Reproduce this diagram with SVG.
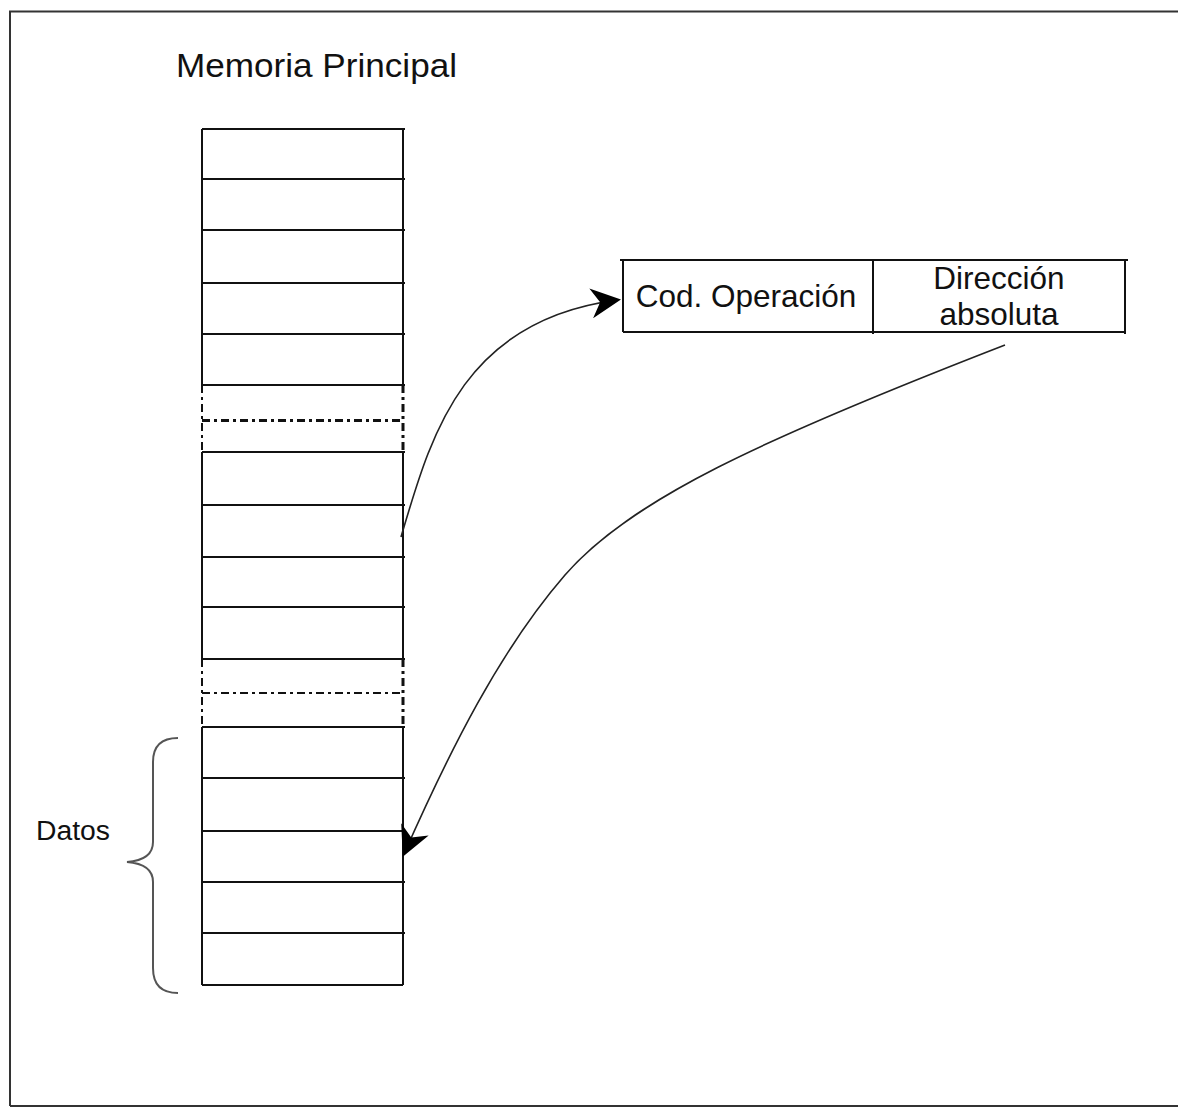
<svg xmlns="http://www.w3.org/2000/svg" width="1178" height="1108" viewBox="0 0 1178 1108">
<style>
.t{font-family:"Liberation Sans",Arial,sans-serif;fill:#111}
.ln{stroke:#111;stroke-width:2;fill:none}
.dd{stroke:#111;stroke-width:2;fill:none;stroke-dasharray:8 4 3 4}
.dd2{stroke:#111;stroke-width:3;fill:none;stroke-dasharray:8 4 3 4}
.cv{stroke:#222;stroke-width:1.6;fill:none}
</style>
<defs>
<marker id="ah" viewBox="0 0 10 10" refX="9" refY="5" markerWidth="30" markerHeight="30" markerUnits="userSpaceOnUse" orient="auto">
<path d="M0,0 L10,5 L0,10 L3,5 Z" fill="#000"/>
</marker>
</defs>
<rect x="0" y="0" width="1178" height="1108" fill="#fff"/>
<path d="M10,1106 L10,11.5 L1180,11.5 M10,1106 L1180,1106" stroke="#333" stroke-width="2" fill="none"/>
<g id="titulo"><text class="t" x="176" y="77" font-size="34" textLength="281" lengthAdjust="spacingAndGlyphs">Memoria Principal</text></g>
<g id="memoria">
<path class="ln" d="M202,129 V385 M202,452 V659 M202,727 V985 M403,129 V385 M403,452 V659 M403,727 V985"/>
<path class="dd" d="M202,385 V452 M202,659 V727"/>
<path class="dd2" d="M403,385 V452 M403,659 V727"/>
<path class="ln" d="M202,129 H405 M202,179 H405 M202,230 H405 M202,283 H405 M202,334 H405 M202,385 H405 M202,452 H405 M202,505 H405 M202,557 H405 M202,607 H405 M202,659 H405 M202,727 H405 M202,778 H405 M202,831 H405 M202,882 H405 M202,933 H405 M202,985 H403"/>
<path class="dd2" d="M202,420.5 H403"/>
<path class="dd" d="M202,693 H403"/>
</g>
<g id="datos">
<path d="M178,738 Q153,738 153,762 L153,842 Q153,860 127,862 Q153,864 153,882 L153,968 Q153,993 178,993" stroke="#555" stroke-width="2" fill="none"/>
<text class="t" x="36" y="840" font-size="27" textLength="74" lengthAdjust="spacingAndGlyphs">Datos</text>
</g>
<g id="instruccion">
<path class="ln" d="M620,260 H1128 M623,332 H1125 M623,260 V332 M873,260 V334 M1125,260 V334"/>
<text class="t" x="746" y="307" font-size="31.5" text-anchor="middle">Cod. Operación</text>
<text class="t" x="999" y="289" font-size="31.5" text-anchor="middle">Dirección</text>
<text class="t" x="999" y="325" font-size="31.5" text-anchor="middle">absoluta</text>
</g>
<g id="conectores">
<path class="cv" d="M401,537 C430,440 460,320 618,300" marker-end="url(#ah)"/>
<path class="cv" d="M1005,345 C760,440 630,500 565,575 C500,650 450,750 404,854" marker-end="url(#ah)"/>
</g>
</svg>
